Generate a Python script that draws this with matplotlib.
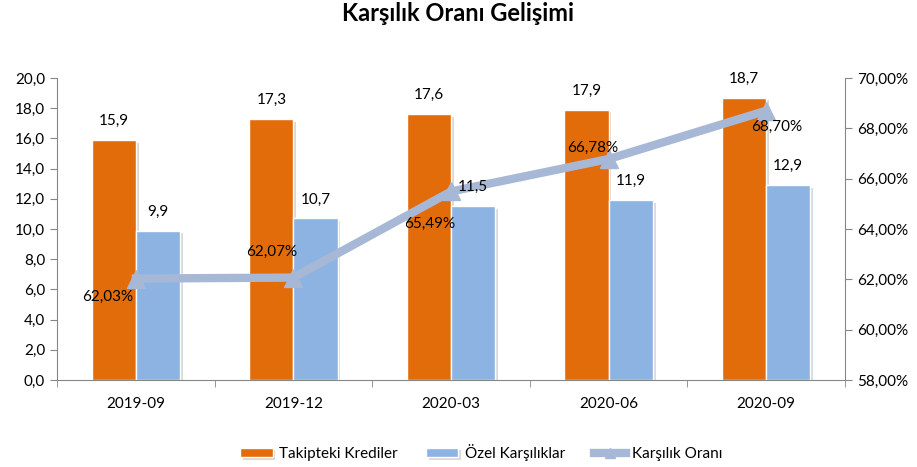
import numpy as np
import matplotlib.pyplot as plt
import matplotlib.patheffects as pe

plt.rcParams['font.family'] = ['Lato', 'DejaVu Sans']

# veriler
donemler = ['2019-09', '2019-12', '2020-03', '2020-06', '2020-09']
takipteki = [15.9, 17.3, 17.6, 17.9, 18.7]
ozel = [9.9, 10.7, 11.5, 11.9, 12.9]
oran = [62.03, 62.07, 65.49, 66.78, 68.70]

# etiket kaydırmaları (piksel)
oran_ofset = [(-28, -18), (-22, 26), (-21, -32), (-16, 11), (10, -16)]

def tr(v, d):
    return f"{v:.{d}f}".replace('.', ',')

fig = plt.figure(figsize=(9.17, 4.67), dpi=100)
ax = fig.add_axes([0.0622, 0.1863, 0.8593, 0.6467])
ax2 = ax.twinx()

x = np.arange(len(donemler))
w = 0.28
golge = [pe.SimplePatchShadow(offset=(2, -2), alpha=0.18), pe.Normal()]

b1 = ax.bar(x - w / 2, takipteki, w, color='#E36C0A', edgecolor='white', linewidth=1,
            label='Takipteki Krediler', path_effects=golge)
b2 = ax.bar(x + w / 2, ozel, w, color='#8DB3E2', edgecolor='white', linewidth=1,
            label='Özel Karşılıklar', path_effects=golge)

ln, = ax2.plot(x, oran, color='#A7B8D6', linewidth=6, marker='^', markersize=13,
               label='Karşılık Oranı', zorder=5)

# etiketler çizginin üstünde kalsın diye ax2'ye yazılıyor
for xi, v in zip(x - w / 2, takipteki):
    ax2.annotate(tr(v, 1), (xi, v), xycoords=ax.transData, xytext=(0, 12),
                 textcoords='offset pixels', ha='center', va='bottom', fontsize=11, zorder=6)
for xi, v in zip(x + w / 2, ozel):
    ax2.annotate(tr(v, 1), (xi, v), xycoords=ax.transData, xytext=(0, 12),
                 textcoords='offset pixels', ha='center', va='bottom', fontsize=11, zorder=6)
for xi, v, (dx, dy) in zip(x, oran, oran_ofset):
    ax2.annotate(tr(v, 2) + '%', (xi, v), xytext=(dx, dy), textcoords='offset pixels',
                 ha='center', va='center', fontsize=11, zorder=6)

ax.set_xlim(-0.5, len(donemler) - 0.5)
ax.set_ylim(0, 20)
ax.set_yticks(np.arange(0, 20.1, 2))
ax.set_yticklabels([tr(v, 1) for v in np.arange(0, 20.1, 2)])
ax2.set_ylim(58, 70)
ax2.set_yticks(np.arange(58, 70.1, 2))
ax2.set_yticklabels([tr(v, 2) + '%' for v in np.arange(58, 70.1, 2)])

ax.set_xticks(x)
ax.set_xticklabels(donemler)
ax.set_xticks(np.arange(-0.5, len(donemler), 1), minor=True)
ax.tick_params(axis='x', which='major', length=0, pad=12, labelsize=11)
ax.tick_params(axis='x', which='minor', length=5, color='#868686')
ax.tick_params(axis='y', length=5, color='#868686', labelsize=11)
ax2.tick_params(axis='y', length=5, color='#868686', labelsize=11)

for a in (ax, ax2):
    a.spines['top'].set_visible(False)
    for s in ('left', 'right', 'bottom'):
        a.spines[s].set_color('#868686')
ax.spines['right'].set_visible(False)
ax2.spines['left'].set_visible(False)
ax2.spines['bottom'].set_visible(False)

fig.suptitle('Karşılık Oranı Gelişimi', x=0.5, y=0.995, fontsize=17, fontweight='bold')

fig.legend(handles=[b1, b2, ln], loc='center', bbox_to_anchor=(0.525, 0.032), ncol=3,
           frameon=False, fontsize=11, handlelength=2.1, handleheight=0.55,
           handletextpad=0.4, columnspacing=1.9, markerscale=0.6)

fig.savefig('out.png', dpi=100)
